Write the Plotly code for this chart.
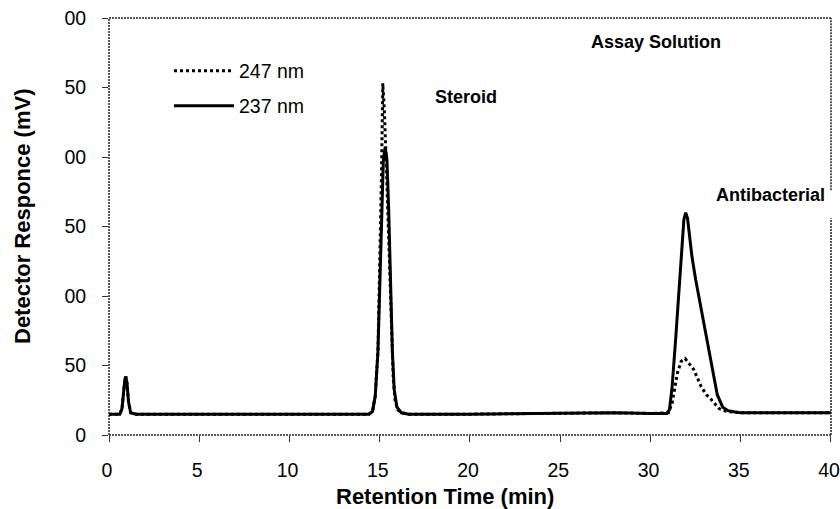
import plotly.graph_objects as go

# Retention time (min) and detector response (mV) for each wavelength
time_237 = [0, 0.6, 0.72, 0.8, 0.88, 0.93, 1.0, 1.08, 1.2, 1.5, 5, 9.5, 10, 14.4, 14.6, 14.75,
            14.9, 15.0, 15.1, 15.2, 15.3, 15.4, 15.5, 15.6, 15.7, 15.8, 15.95, 16.2, 16.6,
            20, 26, 28, 30, 30.9, 31.05, 31.2, 31.4, 31.6, 31.75, 31.85, 31.95, 32.05, 32.15,
            32.3, 32.5, 32.7, 32.9, 33.15, 33.4, 33.7, 34.0, 34.3, 34.7, 35, 40]
resp_237 = [15, 15, 19, 30, 40, 42, 37, 24, 16, 15, 15, 15.5, 15, 15, 17, 28,
            60, 110, 165, 198, 207, 198, 160, 110, 60, 33, 20, 16, 15,
            15, 15.5, 16, 15.5, 15.5, 18, 35, 70, 111, 142, 155, 160, 156, 145,
            128, 112, 98, 84, 68, 48, 29, 20, 17.5, 16.5, 16, 16]

time_247 = [0, 0.6, 0.72, 0.8, 0.88, 0.93, 1.0, 1.08, 1.2, 1.5, 5, 9.5, 10, 14.4, 14.6, 14.75,
            14.9, 15.0, 15.1, 15.17, 15.25, 15.35, 15.45, 15.55, 15.65, 15.75, 15.85, 16.0,
            16.2, 16.6, 20, 26, 28, 30, 31.0, 31.2, 31.5, 31.7, 31.92, 32.1, 32.4, 32.8,
            33.1, 33.4, 33.8, 34.2, 34.6, 35, 40]
resp_247 = [15, 15, 19, 30, 40, 42, 37, 24, 16, 15, 15, 15.5, 15, 15, 17, 28,
            60, 115, 190, 253, 235, 200, 160, 115, 70, 40, 25, 18,
            16, 15, 15, 15.5, 16, 15.5, 16, 23, 45, 53, 55, 52, 47, 35,
            29, 25, 19, 17, 16.3, 16, 16]

y_ticks = [0, 50, 100, 150, 200, 250, 300]
y_tick_text = ["0", "50", "00", "50", "00", "50", "00"]
x_ticks = [0, 5, 10, 15, 20, 25, 30, 35, 40]

FONT = "Liberation Sans, Arial, sans-serif"

fig = go.Figure()
fig.add_trace(go.Scatter(x=time_247, y=resp_247, mode="lines", name="247 nm", showlegend=True,
                         line=dict(color="black", width=3, dash="dot"), legend="legend"))
fig.add_trace(go.Scatter(x=time_237, y=resp_237, mode="lines", name="237 nm", showlegend=True,
                         line=dict(color="black", width=3), legend="legend2"))

legend_style = dict(font=dict(family=FONT, size=19.5, color="black"), bgcolor="rgba(0,0,0,0)",
                    borderwidth=0, itemwidth=60, xanchor="left", yanchor="middle",
                    visible=True)

frame = dict(color="#222", width=1.5, dash="2px,1px")
shapes = [
    dict(type="line", xref="paper", yref="paper", x0=0, x1=1, y0=1, y1=1, line=frame),
    dict(type="line", xref="paper", yref="paper", x0=0, x1=1, y0=0, y1=0, line=frame),
    dict(type="line", xref="paper", yref="paper", x0=0, x1=0, y0=0, y1=1, line=frame),
    dict(type="line", xref="paper", yref="y", x0=1, x1=1, y0=176, y1=300, line=frame),
    dict(type="line", xref="paper", yref="y", x0=1, x1=1, y0=0, y1=156, line=frame),
]

PLOT_W = 722
bold = dict(family=FONT, size=18, color="black")
annotations = [
    dict(x=19.8, y=243, text="<b>Steroid</b>", showarrow=False, font=bold),
    dict(x=30.29, y=283, text="<b>Assay Solution</b>", showarrow=False, font=bold),
    dict(x=36.63, y=172.7, text="<b>Antibacterial</b>", showarrow=False, font=bold),
    dict(xref="paper", yref="paper", x=(445 - 109) / PLOT_W, y=-(496 - 435) / 417,
         xanchor="center", yanchor="middle",
         text="<b>Retention Time (min)</b>", showarrow=False,
         font=dict(family=FONT, size=22, color="black")),
    dict(xref="paper", yref="paper", x=-(109 - 22) / PLOT_W, y=(435 - 216) / 417,
         xanchor="center", yanchor="middle",
         text="<b>Detector Responce (mV)</b>", showarrow=False, textangle=-90,
         font=dict(family=FONT, size=22, color="black")),
]

fig.update_layout(
    width=840, height=509,
    margin=dict(l=109, r=9, t=18, b=74, autoexpand=False),
    paper_bgcolor="white", plot_bgcolor="white",
    font=dict(family=FONT, color="black"),
    showlegend=True,
    legend=dict(x=(169 - 109) / PLOT_W, y=(435 - 71) / 417, **legend_style),
    legend2=dict(x=(169 - 109) / PLOT_W, y=(435 - 106) / 417, **legend_style),
    xaxis=dict(range=[0, 40.001], tickvals=x_ticks, showgrid=False, zeroline=False,
               showline=False, ticks="outside", ticklen=6, tickcolor="#333",
               ticklabeloverflow="allow", automargin=False, ticklabelshift=-2,
               tickfont=dict(family=FONT, size=19.5, color="black"), ticklabelstandoff=12),
    yaxis=dict(range=[0, 300], tickvals=y_ticks, ticktext=y_tick_text, showgrid=False,
               zeroline=False, showline=False, ticks="outside", ticklen=6, tickcolor="#333",
               automargin=False,
               tickfont=dict(family=FONT, size=19.5, color="black"), ticklabelstandoff=12),
    xaxis2=dict(range=[0, 40.001], overlaying="x", tickvals=x_ticks, showticklabels=False,
                showgrid=False, zeroline=False, showline=False, ticks="inside", ticklen=6,
                tickcolor="#333", automargin=False),
    yaxis2=dict(range=[0, 300], overlaying="y", tickvals=y_ticks, showticklabels=False,
                showgrid=False, zeroline=False, showline=False, ticks="inside", ticklen=6,
                tickcolor="#333", automargin=False),
    shapes=shapes,
    annotations=annotations,
)

fig.write_html("out.html")
